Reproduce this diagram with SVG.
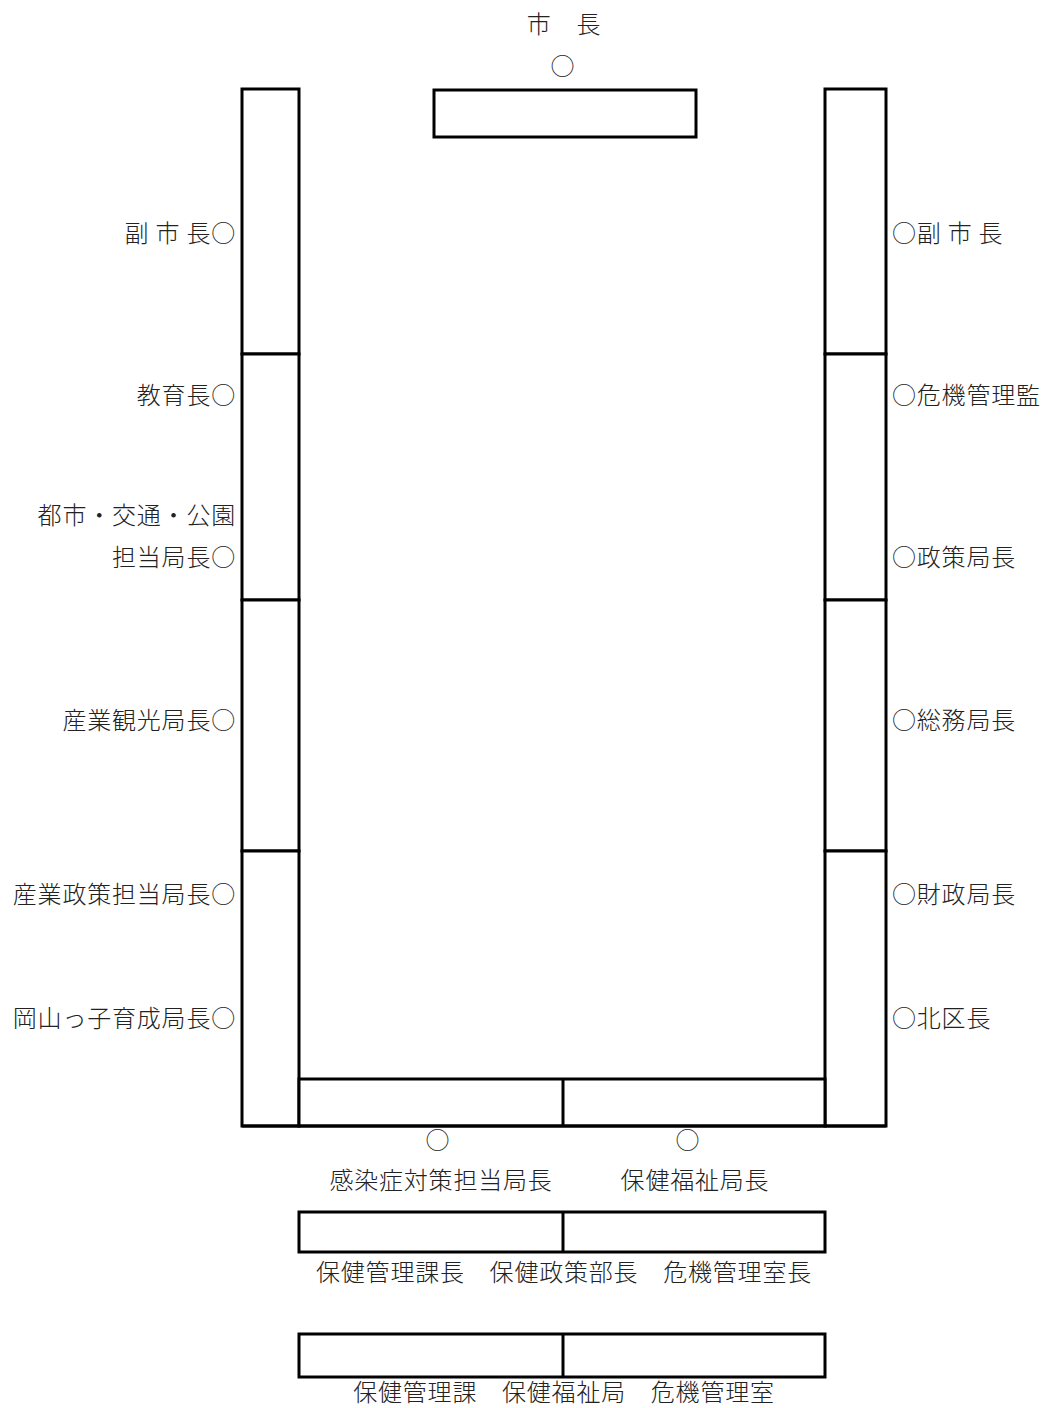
<svg xmlns="http://www.w3.org/2000/svg" width="1042" height="1408" viewBox="0 0 1042 1408">
<style>
.t{font-family:"Noto Sans CJK JP","Noto Sans CJK SC",sans-serif;font-size:24px;font-weight:300;fill:#222;letter-spacing:0.8px}
.e{text-anchor:end}
.m{text-anchor:middle}
.b{fill:#fff;stroke:#000;stroke-width:3}
.l{stroke:#000;stroke-width:3;fill:none}
</style>
<rect width="1042" height="1408" fill="#fff"/>
<g id="mayor">
<text class="t m" x="564" y="33" xml:space="preserve">市　長</text>
<text class="t m" x="563" y="75">○</text>
<rect class="b" x="434" y="90" width="262" height="47"/>
</g>
<g id="left-tables">
<rect class="b" x="242" y="89" width="57" height="265"/>
<rect class="b" x="242" y="354" width="57" height="246"/>
<rect class="b" x="242" y="600" width="57" height="251"/>
<rect class="b" x="242" y="851" width="57" height="275"/>
</g>
<g id="right-tables">
<rect class="b" x="825" y="89" width="61" height="265"/>
<rect class="b" x="825" y="354" width="61" height="246"/>
<rect class="b" x="825" y="600" width="61" height="251"/>
<rect class="b" x="825" y="851" width="61" height="275"/>
</g>
<g id="bottom-table">
<rect class="b" x="299" y="1079" width="526" height="47"/>
<line class="l" x1="563" y1="1079" x2="563" y2="1126"/>
<line class="l" x1="242" y1="1126" x2="886" y2="1126"/>
</g>
<g id="left-labels">
<text class="t e" x="236" y="242" xml:space="preserve">副 市 長○</text>
<text class="t e" x="236" y="404">教育長○</text>
<text class="t e" x="236" y="524">都市・交通・公園</text>
<text class="t e" x="236" y="566">担当局長○</text>
<text class="t e" x="236" y="729">産業観光局長○</text>
<text class="t e" x="236" y="903">産業政策担当局長○</text>
<text class="t e" x="236" y="1027">岡山っ子育成局長○</text>
</g>
<g id="right-labels">
<text class="t" x="892" y="242" xml:space="preserve">○副 市 長</text>
<text class="t" x="892" y="404">○危機管理監</text>
<text class="t" x="892" y="566">○政策局長</text>
<text class="t" x="892" y="729">○総務局長</text>
<text class="t" x="892" y="903">○財政局長</text>
<text class="t" x="892" y="1027">○北区長</text>
</g>
<g id="bottom-labels">
<text class="t m" x="438" y="1149">○</text>
<text class="t m" x="688" y="1149">○</text>
<text class="t m" x="441" y="1189">感染症対策担当局長</text>
<text class="t m" x="695" y="1189">保健福祉局長</text>
</g>
<g id="staff-table-1">
<rect class="b" x="299" y="1212" width="526" height="40"/>
<line class="l" x1="563" y1="1212" x2="563" y2="1252"/>
<text class="t m" x="564" y="1281" xml:space="preserve">保健管理課長　保健政策部長　危機管理室長</text>
</g>
<g id="staff-table-2">
<rect class="b" x="299" y="1334" width="526" height="43"/>
<line class="l" x1="563" y1="1334" x2="563" y2="1377"/>
<text class="t m" x="564" y="1401" xml:space="preserve">保健管理課　保健福祉局　危機管理室</text>
</g>
<g id="connectors"></g>
</svg>
